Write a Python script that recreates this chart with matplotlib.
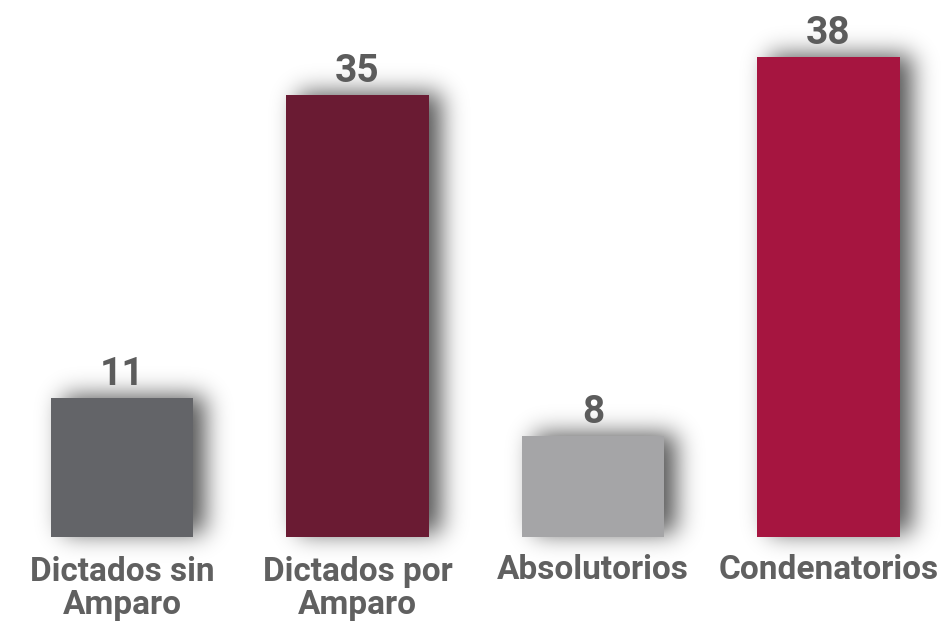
import matplotlib
matplotlib.use("Agg")
import matplotlib.pyplot as plt
import numpy as np

# data
categories = ["Dictados sin\nAmparo", "Dictados por\nAmparo", "Absolutorios", "Condenatorios"]
values = [11, 35, 8, 38]
colors = ["#636468", "#6a1b33", "#a5a5a7", "#a61540"]

W, H = 941, 621
fig = plt.figure(figsize=(W / 100, H / 100), dpi=100)
ax = fig.add_axes([0, 0, 1, 1])
ax.set_xlim(-122 / 235.5, (W - 122) / 235.5)
ax.set_ylim(-(H - 537) / 12.63, 537 / 12.63)
ax.axis("off")

# data units per pixel
px_x = (ax.get_xlim()[1] - ax.get_xlim()[0]) / W
px_y = (ax.get_ylim()[1] - ax.get_ylim()[0]) / H

x = np.arange(len(values))
width = 0.603

bars = ax.bar(x, values, width=width, color=colors, zorder=3)

# blurred drop shadow built as an image in pixel space
mask = np.zeros((H, W))
for b in bars:
    (x0, y0), (x1, y1) = ax.transData.transform(b.get_bbox().get_points())
    c0, c1 = int(round(x0 + 12)), int(round(x1 + 12))
    r0, r1 = int(round(H - y1 - 2)), int(round(H - y0 - 4))
    mask[max(r0, 0):min(r1, H), max(c0, 0):min(c1, W)] = 1.0

sigma = 12.0
k = np.arange(-40, 41)
kern = np.exp(-k ** 2 / (2 * sigma ** 2))
kern /= kern.sum()
blur = np.apply_along_axis(lambda r: np.convolve(r, kern, mode="same"), 1, mask)
blur = np.apply_along_axis(lambda c: np.convolve(c, kern, mode="same"), 0, blur)

shadow = np.zeros((H, W, 4))
shadow[..., 3] = 0.68 * blur
ax.imshow(shadow, extent=(*ax.get_xlim(), *ax.get_ylim()), origin="upper",
          aspect="auto", interpolation="nearest", zorder=1)

for xi, v in zip(x, values):
    ax.text(xi, v + 13 * px_y, str(v), ha="center", va="baseline",
            fontsize=28, fontweight="bold", color="#5c5c5c",
            family="Roboto", zorder=4)

# category labels: first line baseline at a common height
for xi, lab in zip(x, categories):
    n_extra = lab.count("\n")
    ax.text(xi, (-42 - 35 * n_extra) * px_y, lab, ha="center", va="baseline",
            fontsize=24, fontweight="bold", color="#606060", family="Roboto",
            linespacing=1.05, zorder=4)

fig.savefig("out.png", dpi=100)
